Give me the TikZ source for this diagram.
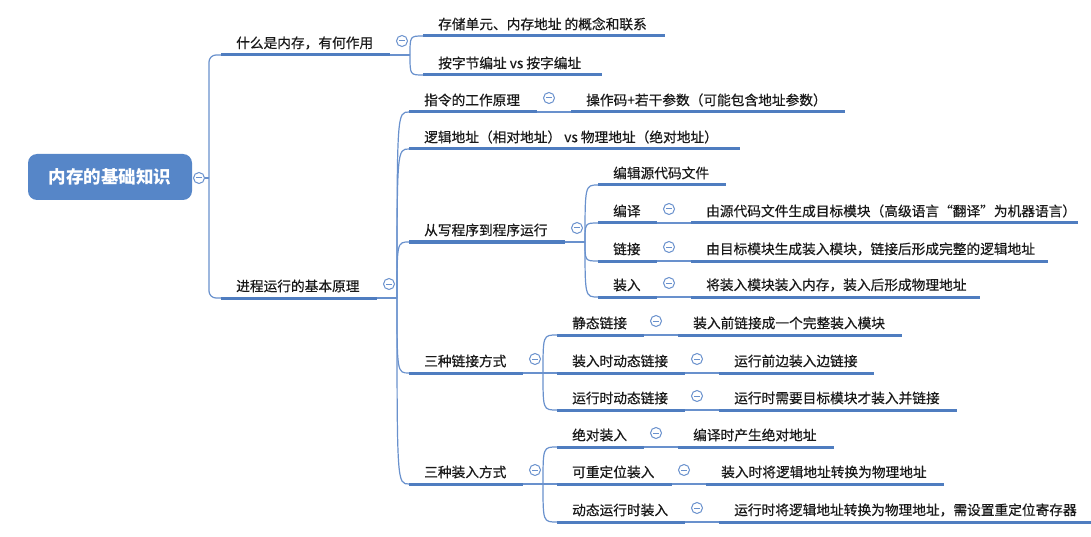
\documentclass[tikz,border=0pt]{standalone}
\usepackage{fontspec}
\usepackage{tikz}
\usetikzlibrary{calc}
\newfontfamily\cjk{Noto Sans CJK SC}[FakeBold=0.5]
\newfontfamily\cjkroot{Noto Sans CJK SC}
\definecolor{lineblue}{RGB}{79,125,192}
\definecolor{linkblue}{RGB}{105,145,205}
\definecolor{rootblue}{RGB}{86,134,200}
\definecolor{textgray}{RGB}{25,25,25}

\begin{document}
\begin{tikzpicture}
  [x=1pt,y=-1pt,
   topic/.style={anchor=west,inner sep=0pt,text=textgray,font=\cjk\fontsize{13.7}{16}\selectfont},
   rootbox/.style={rectangle,rounded corners=9pt,fill=rootblue,text=white,minimum width=164pt,minimum height=46pt,font=\cjkroot\bfseries\fontsize{17.5}{20}\selectfont},
   uline/.style={draw=lineblue,line width=3pt},
   link/.style={draw=linkblue,line width=1.2pt},
   fold/.style={circle,draw=linkblue,line width=1pt,fill=white,minimum size=11pt,inner sep=0pt,
     path picture={\draw[linkblue,line width=1pt] ([xshift=-2.6pt]path picture bounding box.center) -- ([xshift=2.6pt]path picture bounding box.center);}}]
  \useasboundingbox (0,0) rectangle (1091,537);

  % root
  \node[rootbox] (root) at (110,177) {内存的基础知识};
  \node[fold] (root-f) at (199,178) {};
  \coordinate (root-j) at (209,178);

  % topics: name/left/right/y/text
  \foreach \n/\xa/\xb/\y/\t in {
    k1/221/390/55/{什么是内存，有何作用},
    k2/221/377/298/{进程运行的基本原理},
    a1/423/665/36/{存储单元、内存地址 的概念和联系},
    a2/423/602/75/{按字节编址 vs 按字编址},
    b1/409/537/112/{指令的工作原理},
    b1c/571/845/112/{操作码+若干参数（可能包含地址参数）},
    b2/409/740/149/{逻辑地址（相对地址） vs 物理地址（绝对地址）},
    b3/409/565/242/{从写程序到程序运行},
    b4/409/523/373/{三种链接方式},
    b5/409/523/484/{三种装入方式},
    c1/598/726/185/{编辑源代码文件},
    c2/598/657/223/{编译},
    c2c/691/1078/223/{由源代码文件生成目标模块（高级语言“翻译”为机器语言）},
    c3/598/657/261/{链接},
    c3c/691/1048/261/{由目标模块生成装入模块，链接后形成完整的逻辑地址},
    c4/598/657/297/{装入},
    c4c/691/980/297/{将装入模块装入内存，装入后形成物理地址},
    d1/557/644/335/{静态链接},
    d1c/678/902/335/{装入前链接成一个完整装入模块},
    d2/557/685/373/{装入时动态链接},
    d2c/719/874/373/{运行前边装入边链接},
    d3/557/685/410/{运行时动态链接},
    d3c/719/957/410/{运行时需要目标模块才装入并链接},
    e1/557/644/447/{绝对装入},
    e1c/678/834/447/{编译时产生绝对地址},
    e2/557/672/484/{可重定位装入},
    e2c/706/944/484/{装入时将逻辑地址转换为物理地址},
    e3/557/685/522/{动态运行时装入},
    e3c/719/1091/522/{运行时将逻辑地址转换为物理地址，需设置重定位寄存器}}
  {
    \coordinate (\n-l) at (\xa,\y);
    \coordinate (\n-r) at (\xb,\y);
    \node[topic] (\n) at (\xa+15,\y-12) {\t};
  }

  % root to first level
  \draw[link] (root-f) -- (root-j);
  \foreach \to in {k1,k2}
    \draw[link,rounded corners=7pt] (root-j) |- (\to-l);

  % branching topics
  \foreach \n in {k1,k2,b3,b4,b5} {
    \coordinate (\n-j) at ($(\n-r)+(20,0)$);
    \draw[link] (\n-r) -- (\n-j);
  }
  \foreach \from/\to in {k1/a1,k1/a2,k2/b1,k2/b2,k2/b3,k2/b4,k2/b5,b3/c1,b3/c2,b3/c3,b3/c4,b4/d1,b4/d2,b4/d3,b5/e1,b5/e2,b5/e3}
    \draw[link] (\from-j) .. controls (\from-j |- \to-l) .. (\to-l);

  % single children
  \foreach \from/\to in {b1/b1c,c2/c2c,c3/c3c,c4/c4c,d1/d1c,d2/d2c,d3/d3c,e1/e1c,e2/e2c,e3/e3c}
    \draw[link] (\from-r) -- (\to-l);

  % underlines
  \foreach \n in {k1,k2,a1,a2,b1,b1c,b2,b3,b4,b5,c1,c2,c2c,c3,c3c,c4,c4c,d1,d1c,d2,d2c,d3,d3c,e1,e1c,e2,e2c,e3,e3c}
    \draw[uline] (\n-l) -- (\n-r);

  % fold marks
  \foreach \n in {k1,k2,b1,b3,b4,b5,c2,c3,c4,d1,d2,d3,e1,e2,e3}
    \node[fold] (\n-f) at ($(\n-r)+(12,-14)$) {};

\end{tikzpicture}
\end{document}
